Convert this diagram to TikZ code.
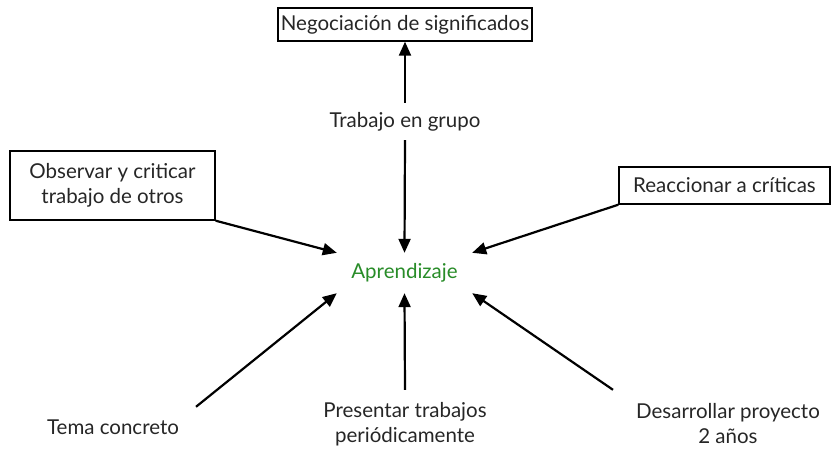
\documentclass[tikz,border=0pt]{standalone}
\usepackage{fontspec}
\setmainfont{Lato}
\usetikzlibrary{arrows.meta}
\definecolor{aprgreen}{RGB}{40,140,40}
\tikzset{
  box/.style = {draw = black, line width = 1.4pt, inner sep = 0pt, align = center},
  txt/.style = {inner sep = 0pt, align = center},
  arr/.style = {line width = 2.2pt, -{Triangle[length=14pt,width=12pt]}}
}
\begin{document}
\begin{tikzpicture}[x = 1pt, y = -1pt, font = \fontsize{20.5}{25}\selectfont\color{black!85}]
\useasboundingbox (0,0) rectangle (831,451);
\node[box, minimum width = 254pt, minimum height = 33pt] (neg) at (405,24.5) {Negociación de significados};
\node[txt, minimum height = 37pt] (trab) at (405,121.5) {Trabajo en grupo};
\node[txt, minimum width = 135pt, minimum height = 40pt, text = aprgreen] (apr) at (404.5,273) {Aprendizaje};
\node[box, minimum width = 205pt, minimum height = 69pt] (obs) at (112.5,185.5) {Observar y criticar\\trabajo de otros};
\node[box, minimum width = 211pt, minimum height = 37pt] (rea) at (724.5,185.5) {Reaccionar a críticas};
\node[txt, minimum height = 40pt] (tema) at (113,427) {Tema concreto};
\node[txt, minimum height = 68pt] (pres) at (405,424) {Presentar trabajos\\periódicamente};
\node[txt, minimum height = 68pt] (des) at (728,424) {Desarrollar proyecto\\2 años};
\draw[arr] (trab.north) -- (neg.south);
\draw[arr] (trab.south) -- (apr.north);
\draw[arr] (obs.south east) -- (apr.north west);
\draw[arr] (rea.south west) -- (apr.north east);
\draw[arr] ([xshift=83pt]tema.north) -- (apr.south west);
\draw[arr] (pres.north) -- (apr.south);
\draw[arr] ([xshift=-115pt]des.north) -- (apr.south east);
\end{tikzpicture}
\end{document}
